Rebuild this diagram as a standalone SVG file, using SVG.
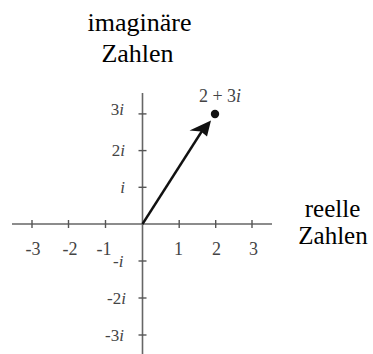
<svg xmlns="http://www.w3.org/2000/svg" width="373" height="354" viewBox="0 0 373 354">
<style>
.ax{stroke:#666;stroke-width:1.6;fill:none}
.tk{stroke:#555;stroke-width:1.4}
.big{font-size:26px;fill:#000}
.lbl{font-size:18px;fill:#444}
.vl{font-size:17px;fill:#444;text-anchor:end}
.it{font-style:italic}
</style>
<rect width="373" height="354" fill="#fff"/>
<g font-family="Liberation Serif, DejaVu Serif, serif">
<g id="axes">
<line class="ax" x1="12" y1="224" x2="272" y2="224"/>
<line class="ax" x1="142.5" y1="93" x2="142.5" y2="354"/>
<g class="tk">
<line x1="32" y1="220" x2="32" y2="228"/>
<line x1="68.5" y1="220" x2="68.5" y2="228"/>
<line x1="105.5" y1="220" x2="105.5" y2="228"/>
<line x1="179.2" y1="220" x2="179.2" y2="228"/>
<line x1="215.7" y1="220" x2="215.7" y2="228"/>
<line x1="252" y1="220" x2="252" y2="228"/>
<line x1="138.5" y1="187.3" x2="146.5" y2="187.3"/>
<line x1="138.5" y1="150.6" x2="146.5" y2="150.6"/>
<line x1="138.5" y1="113.9" x2="146.5" y2="113.9"/>
<line x1="138.5" y1="261" x2="146.5" y2="261"/>
<line x1="138.5" y1="298" x2="146.5" y2="298"/>
<line x1="138.5" y1="335" x2="146.5" y2="335"/>
</g>
</g>
<g id="x-labels" class="lbl" text-anchor="middle">
<text x="33" y="255">-3</text>
<text x="70" y="255">-2</text>
<text x="104" y="255">-1</text>
<text x="178.5" y="255">1</text>
<text x="216.5" y="255">2</text>
<text x="253.5" y="255">3</text>
</g>
<g id="y-labels">
<text class="vl" x="124" y="115">3<tspan class="it">i</tspan></text>
<text class="vl" x="125" y="156">2<tspan class="it">i</tspan></text>
<text class="vl" x="125" y="192.5"><tspan class="it">i</tspan></text>
<text class="vl" x="123.5" y="267">-<tspan class="it">i</tspan></text>
<text class="vl" x="126" y="304">-2<tspan class="it">i</tspan></text>
<text class="vl" x="124" y="341">-3<tspan class="it">i</tspan></text>
</g>
<g id="vector">
<line x1="142.5" y1="224" x2="202" y2="131" stroke="#111" stroke-width="2.4"/>
<path d="M211 120.5 L189.5 130.5 L201 131.5 L207 136.5 Z" fill="#111"/>
<circle cx="215" cy="114" r="4.2" fill="#111"/>
<text class="lbl" x="220" y="102" text-anchor="middle">2 + 3<tspan class="it">i</tspan></text>
</g>
<g id="title-imag">
<text class="big" x="139.5" y="31" text-anchor="middle">imaginäre</text>
<text class="big" x="137.5" y="62" text-anchor="middle">Zahlen</text>
</g>
<g id="title-real">
<text class="big" x="332.5" y="217" text-anchor="middle" style="font-size:25px">reelle</text>
<text class="big" x="333" y="244" text-anchor="middle" style="font-size:25px">Zahlen</text>
</g>
</g>
</svg>
